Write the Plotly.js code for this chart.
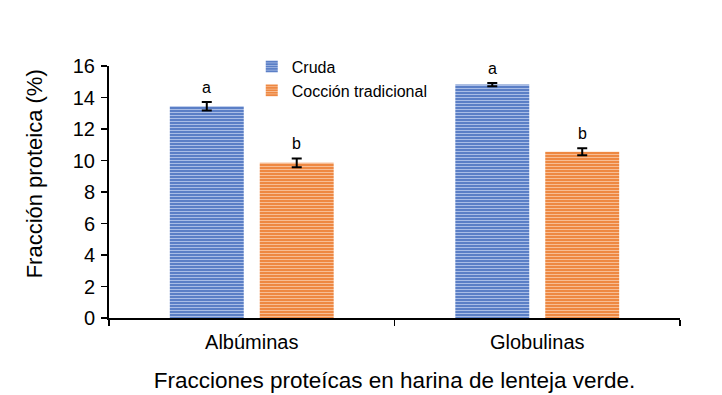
<!DOCTYPE html>
<html>
<head>
<meta charset="utf-8">
<script src="https://cdn.plot.ly/plotly-3.0.1.min.js"></script>
<style>html,body{margin:0;padding:0;background:#fff;}</style>
</head>
<body>
<div id="chart" style="width:722px;height:395px;"></div>
<script>
const categories = ["Albúminas", "Globulinas"];
const crudaValues = [13.45, 14.82];
const crudaErrors = [0.27, 0.10];
const crudaLetters = ["a", "a"];
const coccionValues = [9.85, 10.55];
const coccionErrors = [0.28, 0.22];
const coccionLetters = ["b", "b"];
const yTicks = [0, 2, 4, 6, 8, 10, 12, 14, 16];
const yTitle = "Fracción proteica (%)";
const xTitle = "Fracciones proteícas en harina de lenteja verde.";

const font = "Liberation Sans, Arial, sans-serif";

const traces = [
  {
    type: "bar", name: "Cruda", x: categories, y: crudaValues,
    marker: {color: "#4a72c0", line: {width: 0},
      pattern: {shape: "-", fgcolor: "#a9bde6", bgcolor: "#4a72c0", size: 3, solidity: 0.45}},
    error_y: {type: "data", array: crudaErrors, visible: true, color: "#000", thickness: 2, width: 5}
  },
  {
    type: "bar", name: "Cocción tradicional", x: categories, y: coccionValues,
    marker: {color: "#ed7d31", line: {width: 0},
      pattern: {shape: "-", fgcolor: "#f7bd94", bgcolor: "#ed7d31", size: 3, solidity: 0.45}},
    error_y: {type: "data", array: coccionErrors, visible: true, color: "#000", thickness: 2, width: 5}
  }
];

const annotations = [];
categories.forEach((c, i) => {
  annotations.push({x: c, y: crudaValues[i] + crudaErrors[i], text: crudaLetters[i], showarrow: false,
    xshift: -45, yanchor: "bottom", yshift: 4, font: {family: font, size: 16, color: "#000"}});
  annotations.push({x: c, y: coccionValues[i] + coccionErrors[i], text: coccionLetters[i], showarrow: false,
    xshift: 45, yanchor: "bottom", yshift: 4, font: {family: font, size: 16, color: "#000"}});
});
annotations.push({xref: "paper", yref: "paper", x: 0, y: 0.570, xshift: -75, xanchor: "center", yanchor: "middle",
  text: yTitle, textangle: -90, showarrow: false, font: {family: font, size: 22, color: "#000"}});

const layout = {
  width: 722, height: 395,
  margin: {l: 109, r: 42, t: 66, b: 77},
  paper_bgcolor: "#fff", plot_bgcolor: "#fff",
  barmode: "group", bargap: 0.37, bargroupgap: 0.178,
  font: {family: font, color: "#000"},
  showlegend: true,
  legend: {x: 0.25, y: 1.065, xanchor: "left", yanchor: "top", bgcolor: "rgba(0,0,0,0)",
    font: {family: font, size: 16, color: "#000"}, tracegroupgap: 0, itemwidth: 30},
  xaxis: {
    type: "category", showline: true, linecolor: "#000", linewidth: 2,
    ticks: "outside", tickson: "boundaries", ticklen: 6, tickwidth: 1.5, tickcolor: "#000",
    ticklabelstandoff: 5,
    tickfont: {family: font, size: 20, color: "#000"}, showgrid: false, zeroline: false,
    title: {text: xTitle, font: {family: font, size: 22.5, color: "#000"}, standoff: 20}
  },
  yaxis: {
    range: [0, 16], tickvals: yTicks, ticktext: yTicks.map(String),
    showline: true, linecolor: "#000", linewidth: 2,
    ticks: "outside", ticklen: 6, tickwidth: 1.5, tickcolor: "#000",
    ticklabelstandoff: 2,
    tickfont: {family: font, size: 20, color: "#000"}, showgrid: false, zeroline: false
  },
  annotations: annotations
};

Plotly.newPlot("chart", traces, layout, {displayModeBar: false, staticPlot: true});
</script>
</body>
</html>
